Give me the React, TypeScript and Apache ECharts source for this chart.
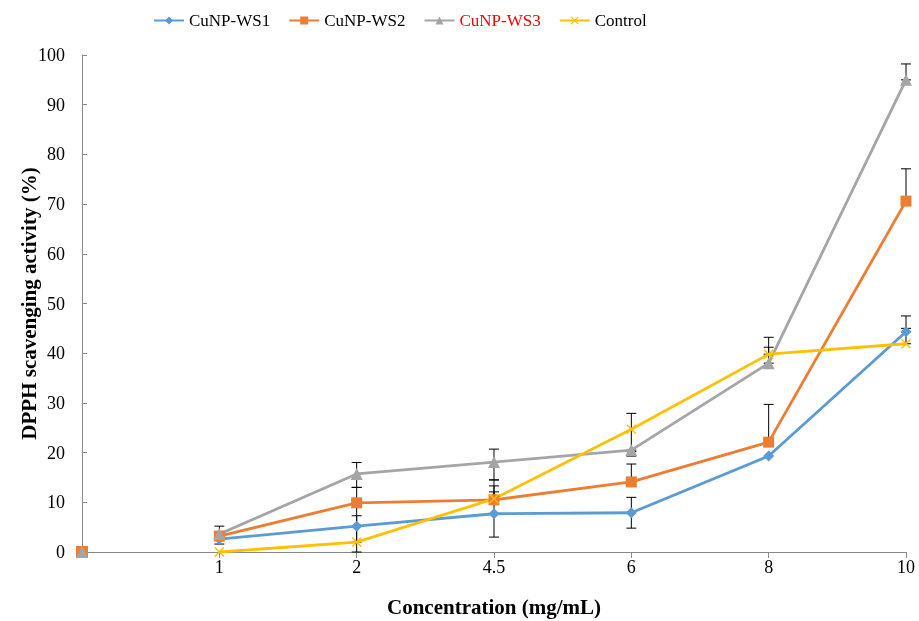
import React, { useEffect, useRef } from "react";
import * as echarts from "echarts";

const categories = ["", "1", "2", "4.5", "6", "8", "10"];
const ws1 = [0, 2.6, 5.2, 7.7, 7.9, 19.3, 44.3];
const ws2 = [0, 3.2, 9.9, 10.5, 14.1, 22.1, 70.6];
const ws3 = [0, 3.6, 15.7, 18.1, 20.5, 38.0, 95.0];
const ctrl = [0, 0, 2.0, 10.7, 24.7, 39.8, 41.9];
// error bar lengths (plus / minus)
const ws1Plus = [0, 1.0, 5.2, 4.4, 3.1, 0, 3.2];
const ws1Minus = [0, 1.0, 5.2, 4.7, 3.1, 0, 0];
const ws2Plus = [0, 0, 3.1, 2.8, 3.6, 7.6, 6.5];
const ws2Minus = [0, 0, 0, 0, 0, 0, 0];
const ws3Plus = [0, 1.6, 2.3, 2.6, 0, 3.2, 3.2];
const ws3Minus = [0, 0, 2.7, 3.6, 1.2, 0, 0];
const ctrlPlus = [0, 0, 5.3, 3.8, 3.2, 3.4, 3.1];
const ctrlMinus = [0, 0, 0, 0, 4.5, 0, 0];
const yTicks = { min: 0, max: 100, interval: 10 };

const FONT = "Liberation Serif";
const COLORS = { ws1: "#5B9BD5", ws2: "#ED7D31", ws3: "#A5A5A5", ctrl: "#FFC000" };
const X_SYMBOL = "path://M0,1L1,0L5,4L9,0L10,1L6,5L10,9L9,10L5,6L1,10L0,9L4,5Z";

export default function App() {
  const ref = useRef<HTMLDivElement>(null);
  useEffect(() => {
    if (!ref.current) return;
    const chart = echarts.init(ref.current, undefined, { renderer: "svg" });

    const errData: number[][] = [];
    const groups: number[][][] = [
      [ws1, ws1Plus, ws1Minus],
      [ws2, ws2Plus, ws2Minus],
      [ws3, ws3Plus, ws3Minus],
      [ctrl, ctrlPlus, ctrlMinus],
    ];
    groups.forEach(([vals, plus, minus]) => {
      vals.forEach((v, i) => {
        if (plus[i] > 0 || minus[i] > 0) errData.push([i, v - minus[i], v + plus[i]]);
      });
    });

    const lineData = (vals: number[]) => vals.map((v, i) => (i === 0 ? null : v));

    const mkLine = (name: string, vals: number[], color: string, symbol: string, size: number) => ({
      name,
      type: "line",
      data: lineData(vals),
      symbol,
      symbolSize: size,
      lineStyle: { color, width: 2.8 },
      itemStyle: { color },
      z: 3,
    });

    const mkFirst = (vals: number[], color: string, symbol: string, size: number, z: number) => ({
      name: "_first" + color,
      type: "scatter",
      data: [[0, vals[0]]],
      symbol,
      symbolSize: size,
      itemStyle: { color, opacity: 1 },
      z,
    });

    chart.setOption({
      animation: false,
      textStyle: { fontFamily: FONT },
      grid: { left: 82, right: 13, top: 55, bottom: 69, containLabel: false, outerBoundsMode: "none" },
      legend: {
        top: 12,
        left: 153,
        padding: 0,
        itemWidth: 30,
        itemHeight: 10,
        itemGap: 18,
        textStyle: { fontFamily: FONT, fontSize: 17, color: "#000" },
        data: [
          { name: "CuNP-WS1" },
          { name: "CuNP-WS2" },
          { name: "CuNP-WS3", textStyle: { color: "#FF0000", fontFamily: FONT, fontSize: 17 } },
          { name: "Control" },
        ],
      },
      xAxis: {
        type: "category",
        data: categories,
        boundaryGap: false,
        name: "Concentration (mg/mL)",
        nameLocation: "middle",
        nameGap: 44,
        nameMoveOverlap: false,
        nameTextStyle: { fontFamily: FONT, fontSize: 21, fontWeight: "bold", color: "#000" },
        axisLine: { lineStyle: { color: "#898989", width: 1 } },
        axisTick: { show: true, length: 6, alignWithLabel: true, lineStyle: { color: "#898989" } },
        axisLabel: { fontFamily: FONT, fontSize: 18, color: "#000", margin: 6 },
        splitLine: { show: false },
      },
      yAxis: {
        type: "value",
        min: yTicks.min,
        max: yTicks.max,
        interval: yTicks.interval,
        name: "DPPH scavenging activity (%)",
        nameLocation: "middle",
        nameGap: 43,
        nameMoveOverlap: false,
        nameTextStyle: { fontFamily: FONT, fontSize: 21, fontWeight: "bold", color: "#000" },
        axisLine: { show: true, lineStyle: { color: "#898989", width: 1 } },
        axisTick: { show: true, inside: true, length: 5, lineStyle: { color: "#898989" } },
        axisLabel: { fontFamily: FONT, fontSize: 18, color: "#000", margin: 17 },
        splitLine: { show: false },
      },
      series: [
        {
          name: "_err",
          type: "custom",
          data: errData,
          z: 2,
          renderItem: (_params: any, api: any) => {
            const x = api.value(0);
            const lo = api.coord([x, api.value(1)]);
            const hi = api.coord([x, api.value(2)]);
            const w = 5;
            const st = { stroke: "#000", lineWidth: 1 };
            return {
              type: "group",
              children: [
                { type: "line", shape: { x1: hi[0], y1: hi[1], x2: lo[0], y2: lo[1] }, style: st },
                { type: "line", shape: { x1: hi[0] - w, y1: hi[1], x2: hi[0] + w, y2: hi[1] }, style: st },
                { type: "line", shape: { x1: lo[0] - w, y1: lo[1], x2: lo[0] + w, y2: lo[1] }, style: st },
              ],
            };
          },
        },
        mkLine("CuNP-WS1", ws1, COLORS.ws1, "diamond", 11),
        mkLine("CuNP-WS2", ws2, COLORS.ws2, "rect", 11),
        mkLine("CuNP-WS3", ws3, COLORS.ws3, "triangle", 12),
        mkLine("Control", ctrl, COLORS.ctrl, X_SYMBOL, 10),
        mkFirst(ctrl, COLORS.ctrl, X_SYMBOL, 10, 4),
        mkFirst(ws1, COLORS.ws1, "diamond", 11, 4),
        mkFirst(ws2, COLORS.ws2, "rect", 12, 5),
        mkFirst(ws3, COLORS.ws3, "triangle", 12, 6),
      ],
    });
    return () => chart.dispose();
  }, []);
  return (
    <div
      ref={ref}
      style={{ position: "fixed", left: 0, top: 0, width: 919, height: 621 }}
    />
  );
}
